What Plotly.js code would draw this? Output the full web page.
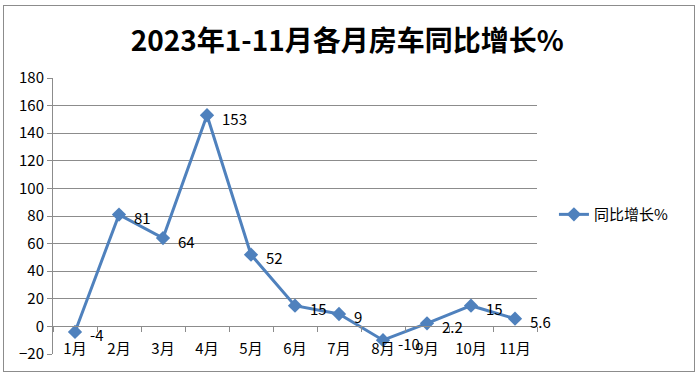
<!DOCTYPE html>
<html>
<head>
<meta charset="utf-8">
<script src="https://cdn.plot.ly/plotly-3.0.1.min.js"></script>
<style>
html,body{margin:0;padding:0;background:#fff;}
#wrap{position:relative;width:700px;height:378px;}
#chart{width:700px;height:378px;}
#frame{position:absolute;left:3px;top:5px;width:690px;height:365px;border:1px solid #8c8c8c;pointer-events:none;}
</style>
</head>
<body>
<div id="wrap"><div id="chart"></div><div id="frame"></div></div>
<script>
const months = ['1月','2月','3月','4月','5月','6月','7月','8月','9月','10月','11月'];
const growth = [-4, 81, 64, 153, 52, 15, 9, -10, 2.2, 15, 5.6];
const labels = ['-4','81','64','153','52','15','9','-10','2.2','15','5.6'];
const seriesName = '同比增长%';
const chartTitle = '2023年1-11月各月房车同比增长%';

const font = '"Noto Sans CJK SC", "Noto Sans", sans-serif';

const trace = {
  x: months, y: growth, type: 'scatter', mode: 'lines+markers',
  name: seriesName,
  line: {color: '#4f81bd', width: 3},
  marker: {symbol: 'diamond', size: 11, color: '#4f81bd'},
  cliponaxis: false
};

const annotations = months.map((m, i) => ({
  x: m, y: growth[i], xref: 'x', yref: 'y', text: labels[i],
  showarrow: false, xanchor: 'left', yanchor: 'middle', xshift: 13, yshift: -3,
  font: {family: font, size: 15, color: '#000'}
}));

const layout = {
  width: 700, height: 378,
  margin: {l: 53, r: 163, t: 78, b: 24},
  paper_bgcolor: '#fff', plot_bgcolor: '#fff',
  title: {text: '<b>' + chartTitle + '</b>', font: {family: font, size: 28, color: '#000'},
          x: 0.496, xanchor: 'center', y: 0.89, yanchor: 'middle'},
  showlegend: true,
  legend: {x: 1.035, y: 0.505, xanchor: 'left', yanchor: 'middle',
           font: {family: font, size: 15, color: '#000'}, bgcolor: 'rgba(0,0,0,0)'},
  annotations: annotations,
  xaxis: {type: 'category', anchor: 'free', position: 0.1,
          showline: true, linecolor: '#8c8c8c', linewidth: 1,
          ticks: 'outside', tickson: 'boundaries', ticklen: 5, tickcolor: '#8c8c8c',
          ticklabelstandoff: 9,
          tickfont: {family: font, size: 15, color: '#000'},
          showgrid: false, zeroline: false, range: [-0.5, 10.5]},
  yaxis: {range: [-20, 180], dtick: 20, tick0: 0,
          showline: true, linecolor: '#8c8c8c', linewidth: 1,
          ticks: 'outside', ticklen: 5, tickcolor: '#8c8c8c',
          tickfont: {family: font, size: 15, color: '#000'},
          showgrid: true, gridcolor: '#8c8c8c', gridwidth: 1,
          zeroline: false}
};

Plotly.newPlot('chart', [trace], layout, {displayModeBar: false, staticPlot: true});
</script>
</body>
</html>
